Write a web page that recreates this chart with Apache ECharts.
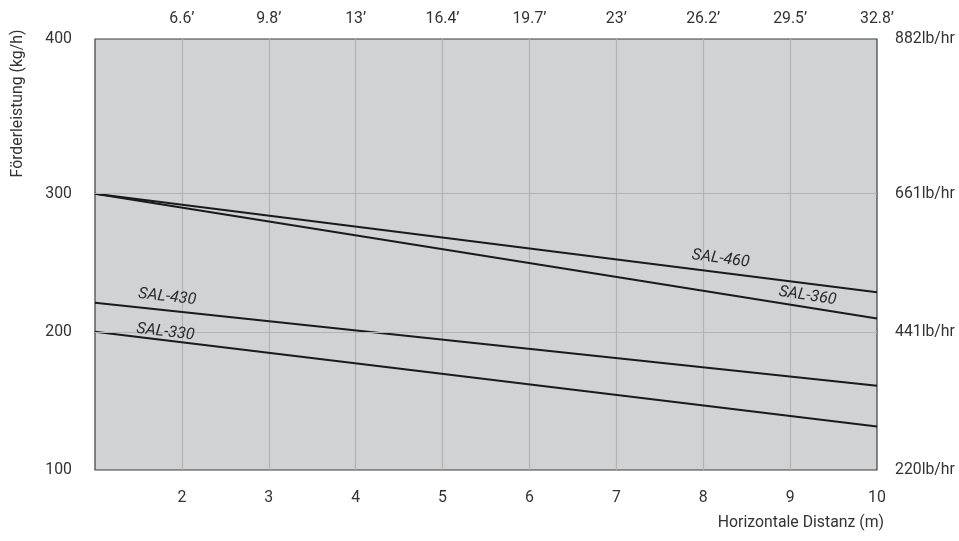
<!DOCTYPE html>
<html>
<head>
<meta charset="utf-8">
<script src="https://cdn.jsdelivr.net/npm/echarts@6/dist/echarts.min.js"></script>
<style>
html,body{margin:0;padding:0;background:#fff;}
#chart{width:959px;height:541px;}
</style>
</head>
<body>
<div id="chart"></div>
<script>
// ---- data ----
const distance = [1, 10];
const seriesNames = ['SAL-460', 'SAL-360', 'SAL-430', 'SAL-330'];
const sal460 = [300, 228.6];
const sal360 = [300, 209.7];
const sal430 = [221, 161];
const sal330 = [200, 131.5];
const bottomTickLabels = ['2', '3', '4', '5', '6', '7', '8', '9', '10'];
const topTickLabels = ['6.6’', '9.8’', '13’', '16.4’', '19.7’', '23’', '26.2’', '29.5’', '32.8’'];
const leftTickLabels = ['100', '200', '300', '400'];
const rightTickLabels = ['220lb/hr', '441lb/hr', '661lb/hr', '882lb/hr'];
const gridY = [200, 300];

const FONT = 'Roboto, "Noto Sans", sans-serif';
const TXT = '#333333';
const FS = 15.8;
const Y_TOP = 412; // top edge of the plot, labelled as the last tick

function yLabel(arr) {
  return function (v) {
    if (Math.abs(v - Y_TOP) < 1e-6) return arr[arr.length - 1];
    const i = Math.round((v - 100) / 100);
    if (i >= arr.length - 1) return '';
    return arr[i];
  };
}

function mk(name, vals, coord, rot) {
  return {
    name: name,
    type: 'line',
    z: 3,
    data: distance.map((d, i) => [d, vals[i]]),
    symbol: 'none',
    lineStyle: { color: '#1a1a1a', width: 2 },
    markPoint: {
      symbol: 'circle',
      symbolSize: 0,
      silent: true,
      data: [{ name: name, coord: coord }],
      label: {
        show: true, position: 'inside', formatter: '{b}',
        color: '#2a2a2a', fontSize: 16, fontStyle: 'italic', fontFamily: FONT,
        rotate: rot
      }
    }
  };
}

const chart = echarts.init(document.getElementById('chart'), null, { renderer: 'canvas' });
chart.setOption({
  animation: false,
  backgroundColor: '#ffffff',
  grid: {
    left: 95, right: 82, top: 39, bottom: 71,
    show: true, backgroundColor: '#d1d2d4', borderColor: '#3c3c3c', borderWidth: 1.2
  },
  xAxis: [
    {
      type: 'value', min: 1, max: 10, interval: 1, position: 'bottom',
      axisLine: { show: false }, axisTick: { show: false },
      splitLine: { show: true, showMinLine: false, showMaxLine: false, lineStyle: { color: '#b3b3b3', width: 1.2 } },
      axisLabel: {
        margin: 20, color: TXT, fontSize: FS, fontFamily: FONT,
        formatter: v => (v >= 2 ? bottomTickLabels[v - 2] : '')
      }
    },
    {
      type: 'value', min: 1, max: 10, interval: 1, position: 'top',
      axisLine: { show: false }, axisTick: { show: false }, splitLine: { show: false },
      axisLabel: {
        margin: 12, color: TXT, fontSize: FS, fontFamily: FONT,
        formatter: v => (v >= 2 ? topTickLabels[v - 2] : '')
      }
    }
  ],
  yAxis: [
    {
      type: 'value', min: 100, max: Y_TOP, interval: 100, position: 'left',
      axisLine: { show: false }, axisTick: { show: false }, splitLine: { show: false },
      axisLabel: { margin: 23, color: TXT, fontSize: FS, fontFamily: FONT, formatter: yLabel(leftTickLabels) }
    },
    {
      type: 'value', min: 100, max: Y_TOP, interval: 100, position: 'right',
      axisLine: { show: false }, axisTick: { show: false }, splitLine: { show: false },
      axisLabel: { margin: 18, color: TXT, fontSize: FS, fontFamily: FONT, formatter: yLabel(rightTickLabels) }
    }
  ],
  graphic: [
    {
      type: 'text', x: 884, y: 523,
      style: { text: 'Horizontale Distanz (m)', fill: TXT, font: FS + 'px ' + FONT, align: 'right', verticalAlign: 'middle' }
    },
    {
      type: 'text', x: 18, y: 103.5, rotation: Math.PI / 2,
      style: { text: 'Förderleistung (kg/h)', fill: TXT, font: FS + 'px ' + FONT, align: 'center', verticalAlign: 'middle' }
    }
  ],
  series: [
    {
      type: 'line', z: 1, data: [], silent: true,
      markLine: {
        silent: true, symbol: 'none', label: { show: false },
        lineStyle: { color: '#b3b3b3', type: 'solid', width: 1.2 },
        data: gridY.map(v => ({ yAxis: v }))
      }
    },
    mk(seriesNames[0], sal460, [8.2, 252.8], -7.5),
    mk(seriesNames[1], sal360, [9.2, 225.9], -8.5),
    mk(seriesNames[2], sal430, [1.83, 225.2], -6.5),
    mk(seriesNames[3], sal330, [1.81, 199.8], -6.5)
  ]
});
</script>
</body>
</html>
